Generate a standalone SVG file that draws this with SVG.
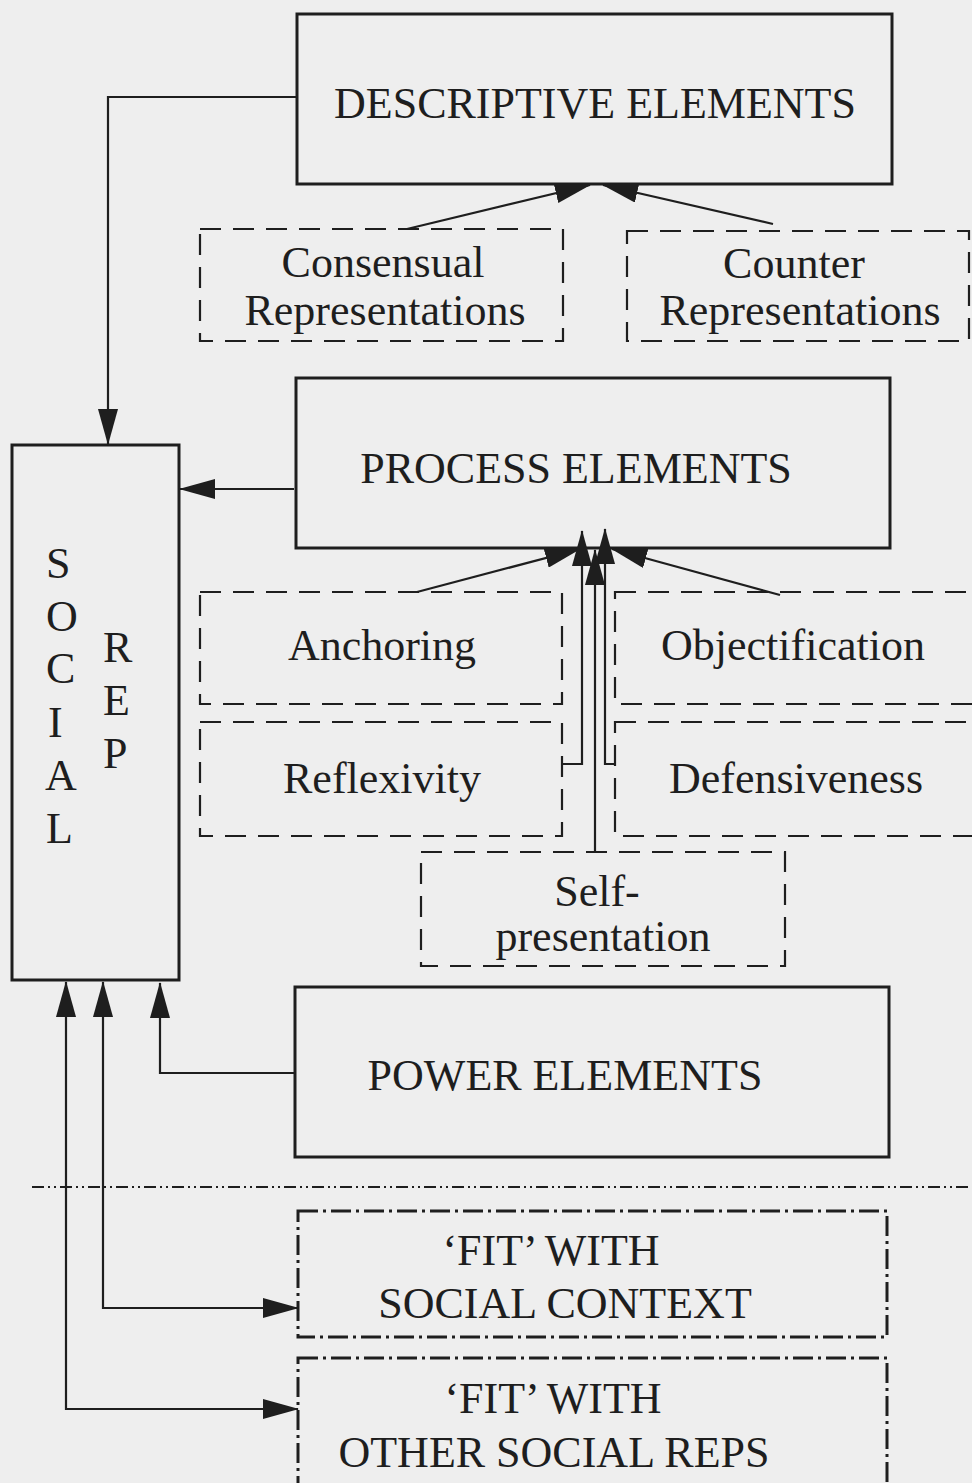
<svg xmlns="http://www.w3.org/2000/svg" width="972" height="1483" viewBox="0 0 972 1483">
<defs>
<style>
.solid{fill:none;stroke:#1e1e1e;stroke-width:3}
.dash{fill:none;stroke:#1e1e1e;stroke-width:2.2;stroke-dasharray:21 12}
.dashdot{fill:none;stroke:#1e1e1e;stroke-width:3;stroke-dasharray:20 5 3 5}
.sep{fill:none;stroke:#1e1e1e;stroke-width:2;stroke-dasharray:12 4 2 4 2 4}
.conn{fill:none;stroke:#1e1e1e;stroke-width:2.2}
.t{font-family:"Liberation Serif","Times New Roman",serif;font-size:44px;fill:#1e1e1e;text-anchor:middle}
.tl{font-family:"Liberation Serif","Times New Roman",serif;font-size:44px;fill:#1e1e1e;text-anchor:start}
</style>
<marker id="ah" viewBox="0 0 36 20" refX="35" refY="10" markerWidth="36" markerHeight="20" markerUnits="userSpaceOnUse" orient="auto-start-reverse">
<path d="M0,0 L36,10 L0,20 z" fill="#1e1e1e"/>
</marker>
</defs>
<rect x="0" y="0" width="972" height="1483" fill="#eeeeee"/>

<g id="descriptive">
<rect class="solid" x="297" y="14" width="595" height="170"/>
<text class="t" x="595" y="118">DESCRIPTIVE ELEMENTS</text>
</g>
<g id="consensual">
<rect class="dash" x="200" y="229" width="363" height="112"/>
<text class="t" x="383" y="277">Consensual</text>
<text class="t" x="385" y="325">Representations</text>
</g>
<g id="counter">
<rect class="dash" x="627" y="231" width="342" height="110"/>
<text class="t" x="794" y="278">Counter</text>
<text class="t" x="800" y="325">Representations</text>
</g>
<g id="process">
<rect class="solid" x="296" y="378" width="594" height="170"/>
<text class="t" x="576" y="483">PROCESS ELEMENTS</text>
</g>
<g id="social-rep">
<rect class="solid" x="12" y="445" width="167" height="535"/>
<text class="tl" x="46" y="578">S</text>
<text class="tl" x="46" y="631">O</text>
<text class="tl" x="46" y="683">C</text>
<text class="tl" x="48" y="737">I</text>
<text class="tl" x="45" y="790">A</text>
<text class="tl" x="46" y="843">L</text>
<text class="tl" x="103" y="662">R</text>
<text class="tl" x="103" y="715">E</text>
<text class="tl" x="103" y="768">P</text>
</g>
<g id="anchoring">
<rect class="dash" x="200" y="592" width="362" height="112"/>
<text class="t" x="382" y="660">Anchoring</text>
</g>
<g id="objectification">
<rect class="dash" x="615" y="592" width="370" height="112"/>
<text class="t" x="793" y="660">Objectification</text>
</g>
<g id="reflexivity">
<rect class="dash" x="200" y="722" width="362" height="114"/>
<text class="t" x="382" y="793">Reflexivity</text>
</g>
<g id="defensiveness">
<rect class="dash" x="615" y="722" width="370" height="114"/>
<text class="t" x="796" y="793">Defensiveness</text>
</g>
<g id="self-presentation">
<rect class="dash" x="421" y="852" width="364" height="114"/>
<text class="t" x="597" y="906">Self-</text>
<text class="t" x="603" y="951">presentation</text>
</g>
<g id="power">
<rect class="solid" x="295" y="987" width="594" height="170"/>
<text class="t" x="565" y="1090">POWER ELEMENTS</text>
</g>
<g id="separator">
<line class="sep" x1="32" y1="1187" x2="972" y2="1187"/>
</g>
<g id="fit-context">
<rect class="dashdot" x="298" y="1211" width="589" height="126"/>
<text class="t" x="551" y="1265">‘FIT’ WITH</text>
<text class="t" x="565" y="1318">SOCIAL CONTEXT</text>
</g>
<g id="fit-other">
<rect class="dashdot" x="298" y="1358" width="589" height="140"/>
<text class="t" x="553" y="1413">‘FIT’ WITH</text>
<text class="t" x="554" y="1467">OTHER SOCIAL REPS</text>
</g>

<g id="connectors">
<path class="conn" d="M297,97 H108 V444" marker-end="url(#ah)"/>
<path class="conn" d="M294,489 H180" marker-end="url(#ah)"/>
<path class="conn" d="M294,1073 H160 V983" marker-end="url(#ah)"/>
<path class="conn" d="M103,982 V1308 H298" marker-start="url(#ah)" marker-end="url(#ah)"/>
<path class="conn" d="M66,982 V1409 H298" marker-start="url(#ah)" marker-end="url(#ah)"/>
<path class="conn" d="M407,229 L590,185" marker-end="url(#ah)"/>
<path class="conn" d="M773,224 L603,185" marker-end="url(#ah)"/>
<path class="conn" d="M417,592 L580,549" marker-end="url(#ah)"/>
<path class="conn" d="M780,595 L612,549" marker-end="url(#ah)"/>
<path class="conn" d="M562,764 H582 V531" marker-end="url(#ah)"/>
<path class="conn" d="M616,764 H605 V529" marker-end="url(#ah)"/>
<path class="conn" d="M595,853 V550" marker-end="url(#ah)"/>
</g>
</svg>
